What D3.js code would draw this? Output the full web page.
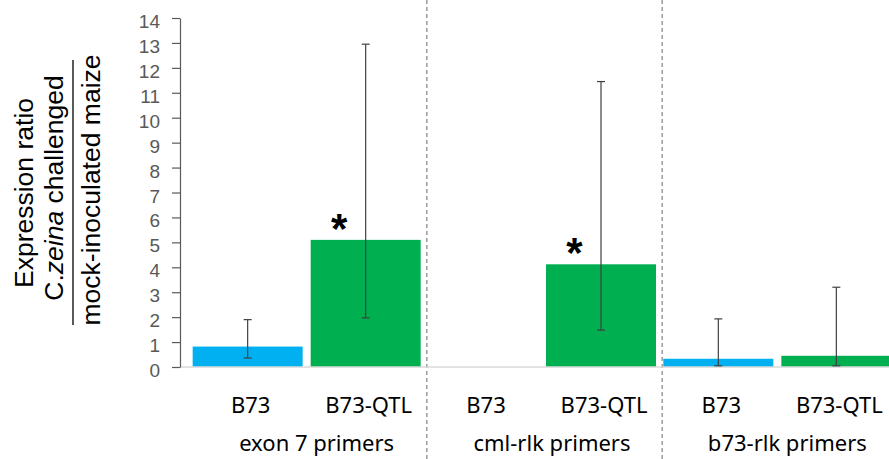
<!DOCTYPE html>
<html>
<head>
<meta charset="utf-8">
<script src="https://cdn.jsdelivr.net/npm/d3@7"></script>
<style>
  body { margin: 0; background: #fff; }
  svg { display: block; }
</style>
</head>
<body>
<svg id="chart"></svg>
<script>
// chart data
const groups = ["exon 7 primers", "cml-rlk primers", "b73-rlk primers"];
const lines = ["B73", "B73-QTL"];
const b73Values = [0.82, 0, 0.33];
const qtlValues = [5.1, 4.12, 0.45];
const b73ErrLow = [0.36, null, 0.05];
const b73ErrHigh = [1.9, null, 1.93];
const qtlErrLow = [1.97, 1.48, 0.05];
const qtlErrHigh = [12.95, 11.45, 3.2];
const qtlSignificant = [true, true, false];
const yTicks = [0, 1, 2, 3, 4, 5, 6, 7, 8, 9, 10, 11, 12, 13, 14];

const width = 889;
const height = 459;

const svg = d3.select("#chart")
    .attr("width", width)
    .attr("height", height);

// scales
const y = d3.scaleLinear().domain([0, 14]).range([367, 18]);
const x0 = d3.scaleBand().domain(groups).range([189, 895]).padding(0);
const x1 = d3.scaleBand().domain(lines).range([0, x0.bandwidth()])
    .paddingInner(0.068).paddingOuter(0.031);
const colors = {"B73": "#00b0f0", "B73-QTL": "#00b050"};

// build rows for drawing
const rows = [];
groups.forEach((g, i) => {
    rows.push({group: g, line: "B73", value: b73Values[i], lo: b73ErrLow[i], hi: b73ErrHigh[i], sig: false});
    rows.push({group: g, line: "B73-QTL", value: qtlValues[i], lo: qtlErrLow[i], hi: qtlErrHigh[i], sig: qtlSignificant[i]});
});
const cx = d => x0(d.group) + x1(d.line) + x1.bandwidth() / 2;

// separators between groups
svg.selectAll(".sep")
    .data(groups.slice(1))
    .enter()
    .append("line")
    .attr("x1", d => x0(d) + 2.5)
    .attr("x2", d => x0(d) + 2.5)
    .attr("y1", 0)
    .attr("y2", height)
    .attr("stroke", "#8c8c8c")
    .attr("stroke-width", 1.3)
    .attr("stroke-dasharray", "4,3");

// bars
svg.selectAll(".bar")
    .data(rows)
    .enter()
    .append("rect")
    .attr("x", d => x0(d.group) + x1(d.line))
    .attr("y", d => y(d.value))
    .attr("width", x1.bandwidth())
    .attr("height", d => y(0) - y(d.value))
    .attr("fill", d => colors[d.line]);

// baseline
svg.append("line")
    .attr("x1", 180).attr("x2", width)
    .attr("y1", y(0)).attr("y2", y(0))
    .attr("stroke", "#d9d9d9")
    .attr("stroke-width", 1.5);

// error bars
const errRows = rows.filter(d => d.lo !== null);
const err = svg.selectAll(".err")
    .data(errRows)
    .enter()
    .append("g")
    .attr("stroke", "#404040")
    .attr("stroke-width", 1.2);
err.append("line")
    .attr("x1", cx).attr("x2", cx)
    .attr("y1", d => y(d.lo)).attr("y2", d => y(d.hi));
err.append("line")
    .attr("x1", d => cx(d) - 4).attr("x2", d => cx(d) + 4)
    .attr("y1", d => y(d.hi)).attr("y2", d => y(d.hi));
err.append("line")
    .attr("x1", d => cx(d) - 4).attr("x2", d => cx(d) + 4)
    .attr("y1", d => y(d.lo)).attr("y2", d => y(d.lo));

// significance stars
svg.selectAll(".star")
    .data(rows.filter(d => d.sig))
    .enter()
    .append("text")
    .attr("x", d => cx(d) - 26.5)
    .attr("y", d => y(d.value) + 3)
    .attr("text-anchor", "middle")
    .style("font-family", "Liberation Sans, Arial, sans-serif")
    .style("font-weight", "bold")
    .style("font-size", "42px")
    .attr("fill", "#000")
    .text("*");

// y axis
const yAxis = d3.axisLeft(y).tickValues(yTicks).tickSize(8).tickSizeOuter(0);
const gy = svg.append("g")
    .attr("transform", "translate(180,0)")
    .call(yAxis);
gy.select(".domain").attr("stroke", "#595959").attr("stroke-width", 1.2);
gy.selectAll(".tick line").attr("stroke", "#595959").attr("stroke-width", 1.2);
gy.selectAll(".tick text")
    .attr("x", -20)
    .attr("dy", "0.5em")
    .attr("fill", "#595959")
    .style("font-family", "Liberation Sans, Arial, sans-serif")
    .style("font-size", "19px");

// category labels
svg.selectAll(".cat")
    .data(rows)
    .enter()
    .append("text")
    .attr("x", d => cx(d) + 3)
    .attr("y", 413)
    .attr("text-anchor", "middle")
    .style("font-family", "Noto Sans, sans-serif")
    .style("font-size", "22px")
    .attr("fill", "#000")
    .text(d => d.line);

// group labels
svg.selectAll(".grp")
    .data(groups)
    .enter()
    .append("text")
    .attr("x", d => x0(d) + x0.bandwidth() / 2 + 10)
    .attr("y", 451)
    .attr("text-anchor", "middle")
    .style("font-family", "Noto Sans, sans-serif")
    .style("font-size", "22px")
    .attr("fill", "#000")
    .text(d => d);

// y axis title (three rotated lines with a fraction bar)
const title = svg.append("g")
    .style("font-family", "Liberation Sans, Arial, sans-serif")
    .style("font-size", "26.5px")
    .attr("fill", "#000");

title.append("text")
    .attr("transform", "translate(33,193) rotate(-90)")
    .attr("text-anchor", "middle")
    .text("Expression ratio");

const t2 = title.append("text")
    .attr("transform", "translate(63,188) rotate(-90)")
    .attr("text-anchor", "middle");
t2.append("tspan").text("C.");
t2.append("tspan").style("font-style", "italic").text("zeina");
t2.append("tspan").text(" challenged");

title.append("line")
    .attr("x1", 73).attr("x2", 73)
    .attr("y1", 60).attr("y2", 325)
    .attr("stroke", "#000")
    .attr("stroke-width", 1.3);

title.append("text")
    .attr("transform", "translate(100,190) rotate(-90)")
    .attr("text-anchor", "middle")
    .text("mock-inoculated maize");
</script>
</body>
</html>
